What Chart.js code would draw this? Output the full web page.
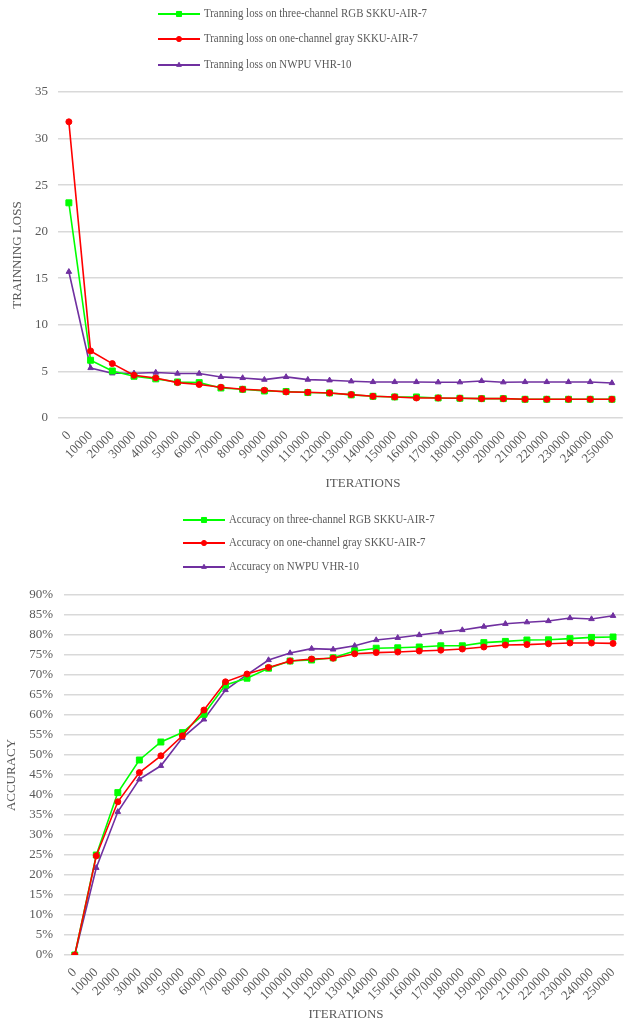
<!DOCTYPE html>
<html>
<head>
<meta charset="utf-8">
<script src="https://cdn.jsdelivr.net/npm/chart.js@4/dist/chart.umd.min.js"></script>
<style>
  html, body { margin: 0; padding: 0; overflow: hidden; background: #fff; }
  canvas { display: block; }
</style>
</head>
<body>
<canvas id="lossChart" width="628" height="495"></canvas>
<canvas id="accChart" width="629" height="528"></canvas>
<script>
// Training iterations (x categories)
const iterations = ['0', '10000', '20000', '30000', '40000', '50000', '60000', '70000', '80000',
  '90000', '100000', '110000', '120000', '130000', '140000', '150000', '160000', '170000',
  '180000', '190000', '200000', '210000', '220000', '230000', '240000', '250000'];

// Training loss
const lossRgb = [23.1, 6.2, 5.05, 4.48, 4.2, 3.87, 3.8, 3.22, 3.08, 2.9, 2.85, 2.73, 2.69, 2.48,
  2.33, 2.26, 2.26, 2.15, 2.12, 2.08, 2.08, 2.01, 2.01, 2.01, 2.01, 2.01];
const lossGray = [31.8, 7.2, 5.84, 4.59, 4.3, 3.8, 3.59, 3.3, 3.08, 2.98, 2.8, 2.76, 2.69, 2.51,
  2.33, 2.26, 2.15, 2.15, 2.12, 2.08, 2.08, 2.01, 2.01, 2.01, 2.01, 2.01];
const lossNwpu = [15.7, 5.37, 4.8, 4.8, 4.88, 4.77, 4.77, 4.41, 4.3, 4.12, 4.41, 4.12, 4.05, 3.94,
  3.87, 3.87, 3.87, 3.84, 3.84, 3.98, 3.84, 3.87, 3.87, 3.87, 3.87, 3.76];

// Accuracy (%)
const accRgb = [0, 25.0, 40.6, 48.75, 53.25, 55.6, 60.2, 67.5, 69.2, 71.7, 73.5, 73.75, 74.3, 76.0,
  76.7, 76.8, 77.0, 77.3, 77.3, 78.1, 78.4, 78.75, 78.8, 79.1, 79.4, 79.5];
const accGray = [0, 24.8, 38.3, 45.6, 49.8, 54.8, 61.25, 68.3, 70.25, 71.9, 73.5, 74.0, 74.2, 75.3,
  75.6, 75.75, 76.0, 76.2, 76.5, 77.0, 77.5, 77.6, 77.8, 78.0, 78.0, 77.9];
const accNwpu = [0, 21.8, 35.8, 43.9, 47.3, 54.3, 58.9, 66.25, 70.1, 73.75, 75.5, 76.6, 76.4, 77.3,
  78.75, 79.3, 80.0, 80.7, 81.25, 82.1, 82.8, 83.2, 83.5, 84.25, 84.0, 84.8];

const lossLabels = ['Tranning loss on three-channel RGB SKKU-AIR-7',
  'Tranning loss on one-channel gray SKKU-AIR-7', 'Tranning loss on NWPU VHR-10'];
const accLabels = ['Accuracy on three-channel RGB SKKU-AIR-7',
  'Accuracy on one-channel gray SKKU-AIR-7', 'Accuracy on NWPU VHR-10'];

const FONT = "'Liberation Serif', 'Times New Roman', serif";
const TEXT = '#595959';
const GRID = '#d9d9d9';

const seriesStyle = [
  { color: '#00ff00', pointStyle: 'rect', radius: 4.2, order: 1 },
  { color: '#ff0000', pointStyle: 'circle', radius: 3, order: 0 },
  { color: '#7030a0', pointStyle: 'triangle', radius: 3.2, order: 2 }
];

function makeDatasets(labels, arrays) {
  return arrays.map((data, i) => ({
    label: labels[i],
    data: data,
    borderColor: seriesStyle[i].color,
    backgroundColor: seriesStyle[i].color,
    pointBackgroundColor: seriesStyle[i].color,
    pointBorderColor: seriesStyle[i].color,
    pointStyle: seriesStyle[i].pointStyle,
    pointRadius: seriesStyle[i].radius,
    pointBorderWidth: 1,
    borderWidth: 1.6,
    order: seriesStyle[i].order,
    tension: 0
  }));
}

// One legend entry per row (line + marker + condensed label), plus the x axis title
const stackedLegend = {
  id: 'stackedLegend',
  afterDraw(chart, args, opts) {
    const ctx = chart.ctx;
    chart.data.datasets.forEach((ds, i) => {
      const y = opts.rows[i];
      const x = opts.x;
      ctx.save();
      ctx.strokeStyle = ds.borderColor;
      ctx.lineWidth = 2;
      ctx.beginPath();
      ctx.moveTo(x, y);
      ctx.lineTo(x + 42, y);
      ctx.stroke();
      ctx.fillStyle = ds.pointBackgroundColor;
      ctx.strokeStyle = ds.pointBorderColor;
      ctx.lineWidth = 1;
      Chart.helpers.drawPoint(ctx, {
        pointStyle: ds.pointStyle, radius: ds.pointRadius * 0.85, borderWidth: 1, rotation: 0
      }, x + 21, y);
      ctx.fillStyle = TEXT;
      ctx.font = '13px ' + FONT;
      ctx.textBaseline = 'middle';
      ctx.textAlign = 'left';
      ctx.translate(x + 46, y);
      ctx.scale(0.835, 1);
      ctx.fillText(ds.label, 0, 0);
      ctx.restore();
    });
    const t = opts.xTitle;
    ctx.save();
    ctx.fillStyle = TEXT;
    ctx.font = '13px ' + FONT;
    ctx.textBaseline = 'middle';
    ctx.textAlign = 'center';
    ctx.fillText(t.text, t.x, t.y);
    ctx.restore();
  }
};

function makeOptions(cfg) {
  return {
    responsive: false,
    animation: false,
    layout: { padding: { top: cfg.plotTop, left: 0, right: 0, bottom: 0 } },
    plugins: {
      legend: { display: false },
      tooltip: { enabled: false },
      stackedLegend: { x: cfg.legendX, rows: cfg.legendRows, xTitle: cfg.xTitle }
    },
    scales: {
      x: {
        offset: true,
        grid: { display: false },
        border: { display: false },
        ticks: {
          color: TEXT, font: { family: FONT, size: 13 },
          minRotation: 45, maxRotation: 45, autoSkip: false, padding: 2
        },
        afterFit(scale) { scale.height = cfg.xHeight; }
      },
      y: {
        min: 0, max: cfg.yMax,
        grid: { color: GRID, lineWidth: 1.6, drawTicks: false },
        border: { display: false },
        ticks: {
          stepSize: cfg.yStep, color: TEXT, font: { family: FONT, size: 13 },
          padding: cfg.yTickPad, callback: cfg.yFormat
        },
        title: {
          display: true, text: cfg.yTitle, color: TEXT,
          font: { family: FONT, size: 13 }, padding: { top: cfg.yTitlePad, bottom: 0 }
        },
        afterFit(scale) { scale.width = cfg.yWidth; }
      }
    }
  };
}

new Chart(document.getElementById('lossChart'), {
  type: 'line',
  data: { labels: iterations, datasets: makeDatasets(lossLabels, [lossRgb, lossGray, lossNwpu]) },
  options: makeOptions({
    plotTop: 92, xHeight: 77, yWidth: 58, yMax: 35, yStep: 5, yTickPad: 10,
    yFormat: v => v, yTitle: 'TRAINNING LOSS', yTitlePad: 10,
    xTitle: { text: 'ITERATIONS', x: 363, y: 484 },
    legendX: 158, legendRows: [14, 39, 65]
  }),
  plugins: [stackedLegend]
});

new Chart(document.getElementById('accChart'), {
  type: 'line',
  data: { labels: iterations, datasets: makeDatasets(accLabels, [accRgb, accGray, accNwpu]) },
  options: makeOptions({
    plotTop: 100, xHeight: 68, yWidth: 64, yMax: 90, yStep: 5, yTickPad: 11,
    yFormat: v => v + '%', yTitle: 'ACCURACY', yTitlePad: 4,
    xTitle: { text: 'ITERATIONS', x: 346, y: 520 },
    legendX: 183, legendRows: [25, 48, 72]
  }),
  plugins: [stackedLegend]
});
</script>
</body>
</html>
